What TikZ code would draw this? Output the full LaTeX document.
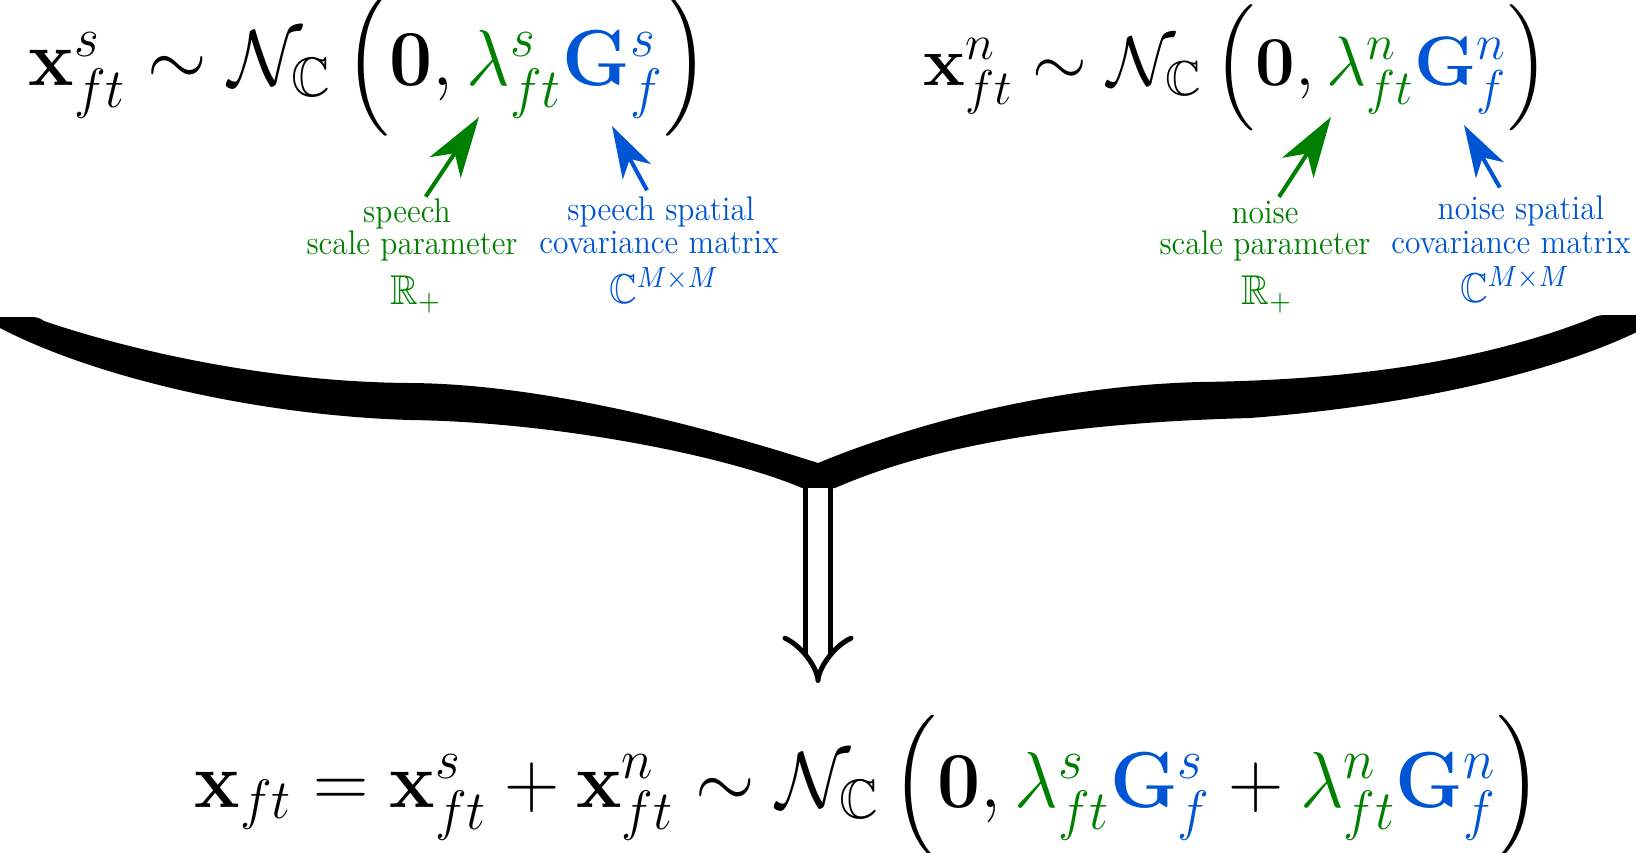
\RequirePackage{fix-cm}
\documentclass[tikz,border=0pt]{standalone}
\usepackage{amsmath}
\usepackage{amssymb}
\usepackage{tikz}
\usetikzlibrary{arrows.meta, positioning}
\definecolor{scalegreen}{RGB}{0,128,0}
\definecolor{covblue}{RGB}{0,85,212}
\newcommand{\narrowbox}[2][0.92]{\scalebox{#1}[1]{#2}}
\newcommand{\lam}[1]{{\color{scalegreen}\lambda^{#1}_{ft}}}
\newcommand{\cov}[1]{{\color{covblue}\mathbf{G}^{#1}_{f}}}

\begin{document}
\begin{tikzpicture}[x=0.3213pt, y=-0.3213pt,
    formula/.style={inner sep=0pt, anchor=base west},
    lab/.style={inner sep=0pt, anchor=base, font=\fontsize{11}{13}\selectfont},
    setlab/.style={inner sep=0pt, anchor=base, font=\fontsize{13.4}{16}\selectfont},
    greenarrow/.style={draw=scalegreen, line width=1.3pt, -{Stealth[length=19.5pt, width=12pt, inset=5.5pt]}},
    bluearrow/.style={draw=covblue, line width=1.3pt, -{Stealth[length=16.7pt, width=10.3pt, inset=4.7pt]}},
    dblarrow/.style={double, double distance=6.4pt, line width=1.6pt, -{Implies[length=14.8pt, width=22.5pt]}}]
    \useasboundingbox (0,0) rectangle (1636,852);

    % Top formulas
    \node[formula, font=\fontsize{25.5}{30}\selectfont] (speechdist) at (28,85)
        {\narrowbox[0.965]{$\mathbf{x}^{s}_{ft} \sim \mathcal{N}_{\mathbb{C}}\,\Big(\mathbf{0}, \lam{s}\cov{s}\Big)$}};
    \node[formula, font=\fontsize{22.5}{27}\selectfont] (noisedist) at (923,85)
        {\narrowbox[1.005]{$\mathbf{x}^{n}_{ft} \sim \mathcal{N}_{\mathbb{C}}\,\Big(\mathbf{0}, \lam{n}\cov{n}\Big)$}};

    % Labels, speech
    \node[lab, scalegreen] (speechA) at (407,222) {\narrowbox{speech}};
    \node[lab, scalegreen] (speechB) at (412,254) {\narrowbox{scale parameter}};
    \node[setlab, scalegreen] (speechR) at (416,304) {\narrowbox{$\mathbb{R}_+$}};
    \node[lab, covblue] (spatialA) at (661,220) {\narrowbox{speech spatial}};
    \node[lab, covblue] (spatialB) at (659,253) {\narrowbox{covariance matrix}};
    \node[setlab, covblue] (spatialC) at (664,303) {\narrowbox{$\mathbb{C}^{M\times M}$}};

    % Labels, noise
    \node[lab, scalegreen] (noiseA) at (1265,223) {\narrowbox{noise}};
    \node[lab, scalegreen] (noiseB) at (1265,254) {\narrowbox{scale parameter}};
    \node[setlab, scalegreen] (noiseR) at (1267,304) {\narrowbox{$\mathbb{R}_+$}};
    \node[lab, covblue] (nspatialA) at (1521,219) {\narrowbox{noise spatial}};
    \node[lab, covblue] (nspatialB) at (1511,253) {\narrowbox{covariance matrix}};
    \node[setlab, covblue] (nspatialC) at (1515,302) {\narrowbox{$\mathbb{C}^{M\times M}$}};

    % Pointers into the formulas
    \coordinate (lamS) at (479,117);
    \coordinate (covS) at (612,126);
    \coordinate (lamN) at (1331,117);
    \coordinate (covN) at (1464,125);
    \draw[greenarrow] ([xshift=6pt, yshift=0.3pt]speechA.north) -- (lamS);
    \draw[bluearrow] ([xshift=-4.5pt, yshift=1.7pt]spatialA.north) -- (covS);
    \draw[greenarrow] ([xshift=4.5pt, yshift=1pt]noiseA.north) -- (lamN);
    \draw[bluearrow] ([xshift=-6.8pt, yshift=2.3pt]nspatialA.north) -- (covN);

    % Big brace
    \fill (-5,317) -- (30,317) .. controls (37,317) and (40,318) .. (44,321)
        .. controls (120,347) and (260,382) .. (410,383)
        .. controls (560,384) and (740,438) .. (818,463)
        .. controls (910,425) and (1050,386) .. (1200,382)
        .. controls (1350,380) and (1480,362) .. (1590,319)
        .. controls (1594,317) and (1598,315) .. (1605,315)
        -- (1641,315) -- (1641,330)
        .. controls (1560,370) and (1420,405) .. (1250,418)
        .. controls (1100,422) and (950,438) .. (835,488)
        -- (802,488)
        .. controls (730,457) and (560,422) .. (410,420)
        .. controls (250,415) and (90,375) .. (0,328)
        -- (-5,328) -- cycle;

    % Sum
    \coordinate (cusp) at (818,488);
    \coordinate (arrowend) at (818,683);
    \draw[dblarrow] (cusp) -- (arrowend);
    \node[formula, font=\fontsize{25.5}{30}\selectfont] (mixdist) at (194,807)
        {\narrowbox[0.965]{$\mathbf{x}_{ft} = \mathbf{x}^{s}_{ft} + \mathbf{x}^{n}_{ft} \sim \mathcal{N}_{\mathbb{C}}\,\Big(\mathbf{0}, \lam{s}\cov{s} + \lam{n}\cov{n}\Big)$}};
\end{tikzpicture}
\end{document}
